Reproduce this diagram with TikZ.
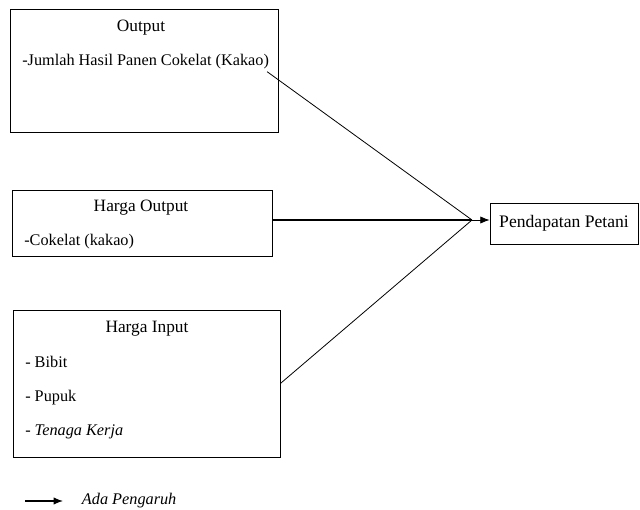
\documentclass[tikz,border=0pt]{standalone}
\usepackage{fontspec}
\setmainfont{Liberation Serif}
\usepackage{tikz}
\usetikzlibrary{arrows,arrows.meta,positioning}

\begin{document}
\begin{tikzpicture}[x=0.75pt,y=-0.75pt]
    \tikzstyle{box}=[rectangle,draw,line width=0.6pt,inner sep=0pt] %
    \tikzstyle{txt}=[inner sep=0pt,anchor=base west,font=\fontsize{12.2}{15}\selectfont] %
    \tikzstyle{ttl}=[inner sep=0pt,anchor=base,font=\fontsize{13}{15}\selectfont] %
    \tikzstyle{link}=[line width=0.6pt] %
    \tikzstyle{tip}=[-{Latex[length=7pt,width=5.5pt]}] %

    \useasboundingbox (0,0) rectangle (640,510);

    % the three boxes on the left
    \node[box,minimum width=201pt,minimum height=92.25pt] (OUT) at (144,70.5) {};
    \node[box,minimum width=195pt,minimum height=49.5pt] (HOUT) at (142,223) {};
    \node[box,minimum width=200.25pt,minimum height=110.25pt] (HIN) at (146.5,383.5) {};

    \node[ttl] (OUTt) at (141,32) {Output};
    \node[txt] (JUML) at (22,66) {-Jumlah Hasil Panen Cokelat (Kakao)};

    \node[ttl] (HOUTt) at (141,212) {Harga Output};
    \node[txt] (COK) at (24,245) {-Cokelat (kakao)};

    \node[ttl] (HINt) at (147,332) {Harga Input};
    \node[txt] (BIB) at (25,367) {- Bibit};
    \node[txt] (PUP) at (25,401) {- Pupuk};
    \node[txt] (TEN) at (25,435) {- \textit{Tenaga Kerja}};

    % result
    \node[box,minimum width=111pt,minimum height=30.75pt,
      font=\fontsize{13.2}{15}\selectfont] (PEND) at (564,223.5) {Pendapatan Petani};

    \coordinate (MEET) at (472,220);

    \draw[link] (JUML.south east) ++(-2,2) -- (MEET);
    \draw[line width=1pt] (HOUT.east |- MEET) -- (MEET);
    \draw[link] (HIN.east) -- (MEET);
    \draw[link,tip] (MEET) -- (PEND.west |- MEET);

    % legend
    \coordinate (LEGa) at (25,501);
    \coordinate (LEGb) at (63,501);
    \draw[line width=0.9pt,tip] (LEGa) -- (LEGb);
    \node[txt] (LEGt) [right=14pt of LEGb,anchor=west] {\textit{Ada Pengaruh}};
\end{tikzpicture}
\end{document}
